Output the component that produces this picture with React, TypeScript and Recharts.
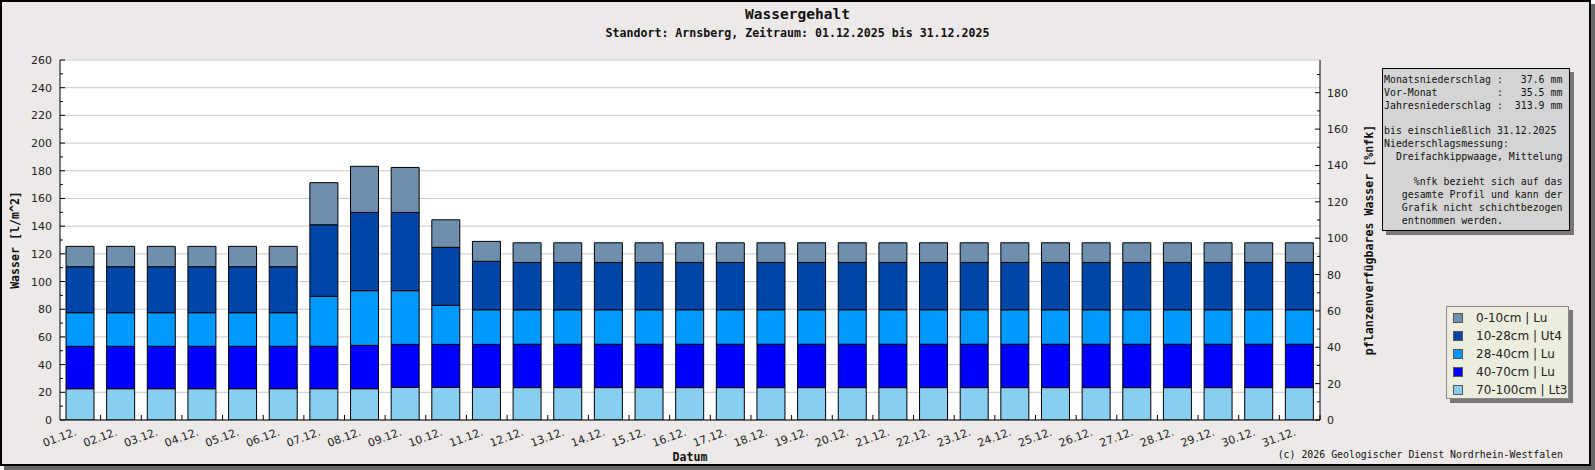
import { Bar, BarChart, CartesianGrid, XAxis, YAxis } from 'recharts'

// Tagesdaten Dezember 2025, Schichtwerte in l/m^2
const days = [
  '01.12.', '02.12.', '03.12.', '04.12.', '05.12.', '06.12.', '07.12.', '08.12.',
  '09.12.', '10.12.', '11.12.', '12.12.', '13.12.', '14.12.', '15.12.', '16.12.',
  '17.12.', '18.12.', '19.12.', '20.12.', '21.12.', '22.12.', '23.12.', '24.12.',
  '25.12.', '26.12.', '27.12.', '28.12.', '29.12.', '30.12.', '31.12.',
]
const layer70to100 = [
  22.6, 22.6, 22.6, 22.6, 22.6, 22.6, 22.6, 22.6, 23.6, 23.6, 23.6, 23.4, 23.4, 23.4, 23.4, 23.4,
  23.4, 23.4, 23.4, 23.4, 23.4, 23.4, 23.4, 23.4, 23.4, 23.4, 23.4, 23.4, 23.4, 23.4, 23.4,
]
const layer40to70 = [
  30.6, 30.6, 30.6, 30.6, 30.6, 30.6, 30.6, 31.3, 31.0, 31.0, 31.0, 31.3, 31.3, 31.3, 31.3, 31.3,
  31.3, 31.3, 31.3, 31.3, 31.3, 31.3, 31.3, 31.3, 31.3, 31.3, 31.3, 31.3, 31.3, 31.3, 31.3,
]
const layer28to40 = [
  24.3, 24.3, 24.3, 24.3, 24.3, 24.3, 36.1, 39.5, 38.8, 28.2, 25.0, 24.9, 24.9, 24.9, 24.9, 24.9,
  24.9, 24.9, 24.9, 24.9, 24.9, 24.9, 24.9, 24.9, 24.9, 24.9, 24.9, 24.9, 24.9, 24.9, 24.9,
]
const layer10to28 = [
  33.2, 33.2, 33.2, 33.2, 33.2, 33.2, 51.7, 56.5, 56.5, 41.9, 35.0, 34.2, 34.2, 34.2, 34.2, 34.2,
  34.2, 34.2, 34.2, 34.2, 34.2, 34.2, 34.2, 34.2, 34.2, 34.2, 34.2, 34.2, 34.2, 34.2, 34.2,
]
const layer0to10 = [
  14.7, 14.7, 14.7, 14.7, 14.7, 14.7, 30.4, 33.3, 32.5, 19.9, 14.4, 14.2, 14.2, 14.2, 14.2, 14.2,
  14.2, 14.2, 14.2, 14.2, 14.2, 14.2, 14.2, 14.2, 14.2, 14.2, 14.2, 14.2, 14.2, 14.2, 14.2,
]

const leftTicks = [0, 10, 20, 30, 40, 50, 60, 70, 80, 90, 100, 110, 120, 130, 140, 150, 160, 170, 180, 190, 200, 210, 220, 230, 240, 250, 260]
const gridTicks = [0, 20, 40, 60, 80, 100, 120, 140, 160, 180, 200, 220, 240, 260]
const rightTicks = [0, 10, 20, 30, 40, 50, 60, 70, 80, 90, 100, 110, 120, 130, 140, 150, 160, 170, 180, 190]

const layers = [
  { key: 'l70', name: '70-100cm | Lt3', color: '#87cef0' },
  { key: 'l40', name: '40-70cm | Lu', color: '#0000ff' },
  { key: 'l28', name: '28-40cm | Lu', color: '#0099ff' },
  { key: 'l10', name: '10-28cm | Ut4', color: '#0046a8' },
  { key: 'l0', name: '0-10cm | Lu', color: '#6e8fae' },
]

const data = days.map((day, i) => ({
  day,
  l70: layer70to100[i],
  l40: layer40to70[i],
  l28: layer28to40[i],
  l10: layer10to28[i],
  l0: layer0to10[i],
}))

const infoLines = [
  'Monatsniederschlag :   37.6 mm',
  'Vor-Monat          :   35.5 mm',
  'Jahresniederschlag :  313.9 mm',
  '',
  'bis einschließlich 31.12.2025',
  'Niederschlagsmessung:',
  '  Dreifachkippwaage, Mittelung',
  '',
  '     %nfk bezieht sich auf das',
  '   gesamte Profil und kann der',
  '   Grafik nicht schichtbezogen',
  '   entnommen werden.',
]

const W = 1595
const H = 470
const PLOT_LEFT = 60
const PLOT_RIGHT = 1320
const BAND = (PLOT_RIGHT - PLOT_LEFT) / days.length
const MONO = '"DejaVu Sans Mono", "Liberation Mono", monospace'
const SANS = '"DejaVu Sans", sans-serif'

function LeftTick({ y, payload }: any) {
  const major = payload.value % 20 === 0
  const x = PLOT_LEFT
  return (
    <g>
      <line x1={x} x2={x + (major ? 5 : 3)} y1={y} y2={y} stroke='#000' />
      {major && (
        <text x={x - 8} y={y} dy={4} textAnchor='end' fontFamily={SANS} fontSize={11} fill='#222'>
          {payload.value}
        </text>
      )}
    </g>
  )
}

function RightTick({ y, payload }: any) {
  const major = payload.value % 20 === 0
  const x = PLOT_RIGHT
  return (
    <g>
      <line x1={x - (major ? 5 : 3)} x2={x} y1={y} y2={y} stroke='#000' />
      {major && (
        <text x={x + 7} y={y} dy={4} textAnchor='start' fontFamily={SANS} fontSize={11} fill='#222'>
          {payload.value}
        </text>
      )}
    </g>
  )
}

function DayTick({ x, y, payload }: any) {
  const tx = x - 3
  const ty = y + 15
  return (
    <g>
      <line x1={x + BAND / 2} x2={x + BAND / 2} y1={y - 5} y2={y} stroke='#000' />
      <text
        x={tx}
        y={ty}
        textAnchor='end'
        transform={`rotate(-20 ${tx} ${ty})`}
        fontFamily={SANS}
        fontSize={11}
        fill='#222'
      >
        {payload.value}
      </text>
    </g>
  )
}

const boxShadow = '4px 4px 0 #777'

export default function App() {
  return (
    <div style={{ position: 'absolute', left: 0, top: 0, width: W, height: H }}>
      <div
        style={{
          position: 'absolute',
          left: 0,
          top: 0,
          width: 1591,
          height: 466,
          boxSizing: 'border-box',
          border: '2px solid #000',
          background: '#ece9e8',
          boxShadow: '4px 4px 0 #666',
        }}
      />
      <div
        style={{
          position: 'absolute',
          left: 0,
          top: 6,
          width: W,
          textAlign: 'center',
          fontFamily: MONO,
          fontWeight: 'bold',
          fontSize: 14.5,
          color: '#111',
        }}
      >
        Wassergehalt
      </div>
      <div
        style={{
          position: 'absolute',
          left: 0,
          top: 26,
          width: W,
          textAlign: 'center',
          fontFamily: MONO,
          fontWeight: 'bold',
          fontSize: 11.6,
          color: '#111',
        }}
      >
        Standort: Arnsberg, Zeitraum: 01.12.2025 bis 31.12.2025
      </div>

      <div style={{ position: 'absolute', left: 0, top: 0 }}>
        <BarChart
          width={W}
          height={H}
          data={data}
          margin={{ top: 60, right: 215, bottom: 20, left: 0 }}
          barSize={28}
        >
          {/* Gitterlinien nur alle 20 l/m^2 */}
          <CartesianGrid vertical={false} horizontalValues={gridTicks} stroke='#c8c8c8' fill='#ffffff' />
          <XAxis
            dataKey='day'
            height={30}
            interval={0}
            tickSize={0}
            tickMargin={0}
            tickLine={false}
            axisLine={{ stroke: '#000' }}
            tick={<DayTick />}
          />
          <YAxis
            width={60}
            domain={[0, 260]}
            allowDataOverflow
            ticks={leftTicks}
            interval={0}
            tickLine={false}
            axisLine={{ stroke: '#000' }}
            tick={<LeftTick />}
          />
          <YAxis
            yAxisId='right'
            orientation='right'
            width={60}
            domain={[0, 198]}
            allowDataOverflow
            ticks={rightTicks}
            interval={0}
            tickLine={false}
            axisLine={{ stroke: '#000' }}
            tick={<RightTick />}
          />
          {layers.map((l) => (
            <Bar
              key={l.key}
              dataKey={l.key}
              name={l.name}
              stackId='a'
              fill={l.color}
              stroke='#000'
              strokeWidth={1}
              isAnimationActive={false}
            />
          ))}
        </BarChart>
      </div>

      {/* Achsentitel */}
      <div
        style={{
          position: 'absolute',
          left: 15,
          top: 240,
          transform: 'translate(-50%, -50%) rotate(-90deg)',
          whiteSpace: 'nowrap',
          fontFamily: MONO,
          fontWeight: 'bold',
          fontSize: 11.6,
          color: '#111',
        }}
      >
        Wasser [l/m^2]
      </div>
      <div
        style={{
          position: 'absolute',
          left: 1369,
          top: 240,
          transform: 'translate(-50%, -50%) rotate(-90deg)',
          whiteSpace: 'nowrap',
          fontFamily: MONO,
          fontWeight: 'bold',
          fontSize: 11.6,
          color: '#111',
        }}
      >
        pflanzenverfügbares Wasser [%nfk]
      </div>
      <div
        style={{
          position: 'absolute',
          left: 690,
          top: 457,
          transform: 'translate(-50%, -50%)',
          fontFamily: MONO,
          fontWeight: 'bold',
          fontSize: 11.6,
          color: '#111',
        }}
      >
        Datum
      </div>

      {/* Infobox */}
      <div
        style={{
          position: 'absolute',
          left: 1382,
          top: 68,
          width: 188,
          height: 163,
          boxSizing: 'border-box',
          border: '1px solid #000',
          background: '#d4d4d4',
          boxShadow,
          padding: '5px 0 0 1px',
          fontFamily: MONO,
          fontSize: 9.9,
          lineHeight: '12.8px',
          color: '#111',
          whiteSpace: 'pre',
        }}
      >
        {infoLines.map((t, i) => (
          <div key={i} style={{ height: 12.8 }}>
            {t}
          </div>
        ))}
      </div>

      {/* Legende */}
      <div
        style={{
          position: 'absolute',
          left: 1446,
          top: 306,
          width: 123,
          height: 93,
          boxSizing: 'border-box',
          border: '1px solid #888',
          background: '#ededdf',
          boxShadow,
          paddingTop: 2,
        }}
      >
        {[...layers].reverse().map((l) => (
          <div key={l.key} style={{ display: 'flex', alignItems: 'center', height: 18 }}>
            <div
              style={{
                width: 10,
                height: 10,
                marginLeft: 6,
                marginRight: 13,
                boxSizing: 'border-box',
                border: '1px solid #555',
                background: l.color,
              }}
            />
            <span style={{ fontFamily: SANS, fontSize: 12, color: '#222', whiteSpace: 'nowrap' }}>{l.name}</span>
          </div>
        ))}
      </div>

      <div
        style={{
          position: 'absolute',
          right: W - 1563,
          top: 449,
          fontFamily: MONO,
          fontSize: 9.9,
          color: '#111',
          whiteSpace: 'nowrap',
        }}
      >
        (c) 2026 Geologischer Dienst Nordrhein-Westfalen
      </div>
    </div>
  )
}
